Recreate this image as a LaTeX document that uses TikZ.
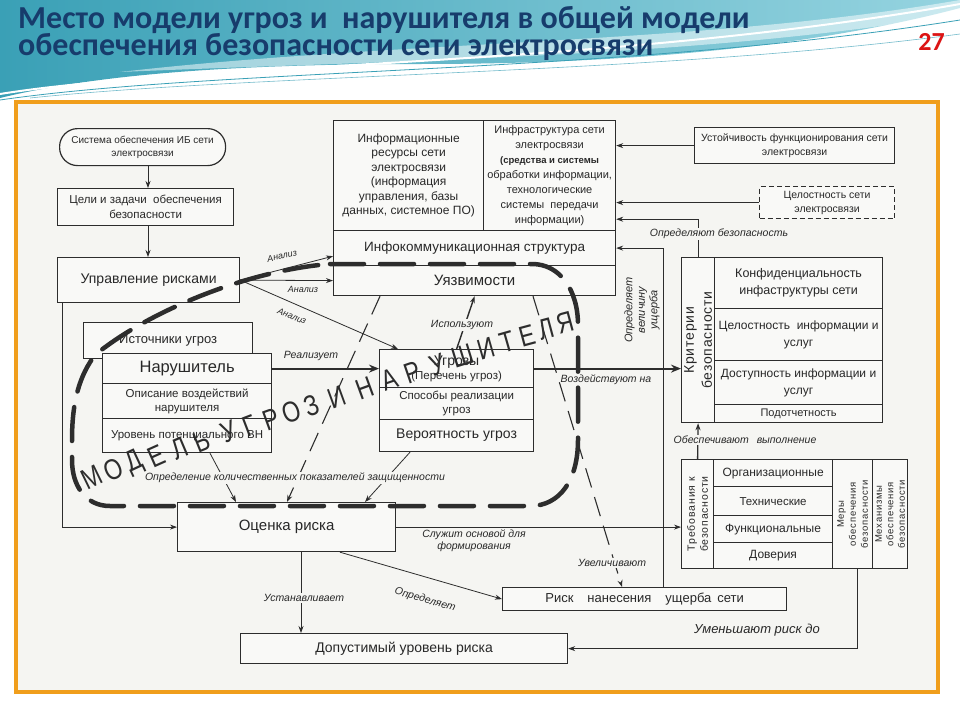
\documentclass[tikz,border=0pt]{standalone}
\usepackage{fontspec}
\setmainfont{Liberation Sans}
\newfontfamily\titlefont{Carlito}
\usetikzlibrary{arrows.meta,calc}
\definecolor{ttl}{RGB}{23,60,108}
\definecolor{ln}{RGB}{45,45,45}
\definecolor{txt}{RGB}{40,40,40}
\definecolor{scan}{RGB}{245,245,242}
\definecolor{boxf}{RGB}{249,249,247}
\definecolor{frame}{RGB}{240,158,28}
\definecolor{tealA}{RGB}{58,160,182}
\definecolor{tealB}{RGB}{150,212,224}
\definecolor{numred}{RGB}{220,20,20}
\newcommand\fsz[2]{\fontsize{#1}{#2}\selectfont}
\tikzset{
  bx/.style={draw=ln, line width=1.2pt, fill=boxf, inner sep=1pt, align=center, text=txt, anchor=north west},
  arr/.style={draw=ln, line width=0.8pt, -{Stealth[length=7pt,width=5pt]}},
  tarr/.style={draw=ln, line width=1.8pt, -{Stealth[length=10pt,width=8pt]}},
  lbl/.style={font=\fsz{10.5}{12}\itshape, text=txt, inner sep=1.5pt, align=center},
  lblf/.style={lbl, fill=scan},
  dsh/.style={draw=ln, line width=1.1pt, dash pattern=on 20pt off 10pt, -{Stealth[length=7pt,width=5pt]}},
  bigloop/.style={draw=ln, line width=4.5pt, dash pattern=on 34pt off 16pt, line cap=round},
  ml/.style={font=\fsz{29}{29}, text=ln, inner sep=0},
  rt/.style={rotate=90, align=center, text=txt, inner sep=0},
}
\begin{document}
\begin{tikzpicture}[x=1pt,y=-1pt]
\useasboundingbox (0,0) rectangle (960,720);
\fill[white] (0,0) rectangle (960,720);
% header
\shade[left color=tealA, right color=tealB] (0,0) -- (960,0) -- (960,8) .. controls (820,45) and (640,64) .. (420,64) .. controls (220,64) and (90,76) .. (0,98) -- cycle;
\fill[white, opacity=0.5] (120,72) .. controls (400,40) and (700,45) .. (960,0) -- (960,14) .. controls (700,58) and (400,60) .. (120,72) -- cycle;
\draw[white, line width=2pt] (0,94) .. controls (200,62) and (600,68) .. (960,4);
\draw[tealA, line width=0.8pt] (0,100) .. controls (220,68) and (620,74) .. (960,20);
\draw[tealA!70, line width=0.6pt] (30,98) .. controls (260,74) and (660,74) .. (960,34);
\node[anchor=base west, inner sep=0, text=ttl, font=\titlefont\bfseries\fsz{32}{36}] (title1) at (18,28) {Место модели угроз и\ \ нарушителя в общей модели};
\node[anchor=base west, inner sep=0, text=ttl, font=\titlefont\bfseries\fsz{32}{36}] (title2) at (18,55) {обеспечения безопасности сети электросвязи};
\node[anchor=base east, inner sep=0, text=numred, font=\titlefont\bfseries\fsz{26}{30}] (num) at (945,50) {27};
% scan area
\fill[scan] (16,102) rectangle (938,692);
\draw[frame, line width=4.5pt] (16,102) rectangle (938,692);

% boxes
\node[bx, rounded corners=18pt, minimum width=166pt, minimum height=37pt, font=\fsz{10}{13}] (sys) at (59,128) {Система обеспечения ИБ сети\\электросвязи};
\node[bx, minimum width=176pt, minimum height=37pt, font=\fsz{11.5}{15}] (goals) at (57,188) {Цели и задачи\ \ обеспечения\\безопасности};
\node[bx, minimum width=182pt, minimum height=45pt, font=\fsz{14}{16}] (risk) at (57,257) {Управление рисками};

\node[bx, minimum width=150pt, minimum height=110pt, font=\fsz{12}{14.5}] (resL) at (333,120) {Информационные\\ресурсы сети\\электросвязи\\(информация\\управления, базы\\данных, системное ПО)};
\node[bx, minimum width=132pt, minimum height=110pt, font=\fsz{11}{15}] (resR) at (483,120) {Инфраструктура сети\\электросвязи\\\fsz{9.5}{14}\bfseries(средства и системы\\обработки информации,\\технологические\\системы\ \ передачи\\информации)};
\node[bx, minimum width=282pt, minimum height=35pt, font=\fsz{13.5}{16}] (infra) at (333,230) {Инфокоммуникационная структура};
\node[bx, minimum width=282pt, minimum height=30pt, font=\fsz{15}{17}] (vuln) at (333,265) {Уязвимости};

\node[bx, minimum width=200pt, minimum height=36pt, font=\fsz{10.5}{14}] (stab) at (694,127) {Устойчивость функционирования сети\\электросвязи};
\node[bx, dash pattern=on 5pt off 3pt, minimum width=135pt, minimum height=32pt, font=\fsz{10.5}{14}] (integ) at (759,186) {Целостность сети\\электросвязи};

\node[bx, minimum width=33pt, minimum height=165pt] (critL) at (681,257) {};
\node[rt, font=\fsz{14}{18}\addfontfeature{LetterSpace=6}] (critT) at (critL.center) {Критерии\\безопасности};
\node[bx, minimum width=168pt, minimum height=51pt, font=\fsz{12.5}{17}] (c1) at (714,257) {Конфиденциальность\\инфаструктуры сети};
\node[bx, minimum width=168pt, minimum height=52pt, font=\fsz{12}{17}] (c2) at (714,308) {Целостность\ \ информации и\\услуг};
\node[bx, minimum width=168pt, minimum height=44pt, font=\fsz{12}{17}] (c3) at (714,360) {Доступность информации и\\услуг};
\node[bx, minimum width=168pt, minimum height=18pt, font=\fsz{11}{12}] (c4) at (714,404) {Подотчетность};

\node[bx, minimum width=32pt, minimum height=109pt] (rL) at (681,459) {};
\node[rt, font=\fsz{10.5}{13}\addfontfeature{LetterSpace=8}] (rLT) at (rL.center) {Требования к\\безопасности};
\node[bx, minimum width=119pt, minimum height=27pt, font=\fsz{12}{14}] (r1) at (713,459) {Организационные};
\node[bx, minimum width=119pt, minimum height=29pt, font=\fsz{11.5}{14}] (r2) at (713,486) {Технические};
\node[bx, minimum width=119pt, minimum height=27pt, font=\fsz{12}{14}] (r3) at (713,515) {Функциональные};
\node[bx, minimum width=119pt, minimum height=26pt, font=\fsz{12}{14}] (r4) at (713,542) {Доверия};
\node[bx, minimum width=40pt, minimum height=109pt] (mer) at (832,459) {};
\node[rt, font=\fsz{9.5}{12}\addfontfeature{LetterSpace=8}] (merT) at (mer.center) {Меры\\обеспечения\\безопасности};
\node[bx, minimum width=35pt, minimum height=109pt] (mech) at (872,459) {};
\node[rt, font=\fsz{9.5}{11.5}\addfontfeature{LetterSpace=8}] (mechT) at (mech.center) {Механизмы\\обеспечения\\безопасности};

\node[bx, minimum width=169pt, minimum height=36pt, font=\fsz{13}{15}] (src) at (83,322) {Источники угроз};
\node[bx, minimum width=169pt, minimum height=30pt, font=\fsz{16.5}{18}] (n1) at (102,353) {Нарушитель};
\node[bx, minimum width=169pt, minimum height=35pt, font=\fsz{11.5}{14}] (n2) at (102,383) {Описание воздействий\\нарушителя};
\node[bx, minimum width=169pt, minimum height=34pt, font=\fsz{11.5}{14}] (n3) at (102,418) {Уровень потенциального ВН};

\node[bx, minimum width=154pt, minimum height=38pt, font=\fsz{11.5}{14}] (t1) at (379,349) {{\fsz{14}{15}Угрозы}\\(Перечень угроз)};
\node[bx, minimum width=154pt, minimum height=32pt, font=\fsz{11.5}{14}] (t2) at (379,387) {Способы реализации\\угроз};
\node[bx, minimum width=154pt, minimum height=32pt, font=\fsz{14}{16}] (t3) at (379,419) {Вероятность угроз};

\node[bx, minimum width=218pt, minimum height=49pt, font=\fsz{15}{17}] (est) at (177,502) {Оценка риска};
\node[bx, minimum width=284pt, minimum height=23pt, font=\fsz{13}{15}] (dmg) at (502,587) {Риск\hspace{14pt}нанесения\hspace{14pt}ущерба\hspace{6pt}сети};
\node[bx, minimum width=327pt, minimum height=30pt, font=\fsz{14}{16}] (acc) at (240,633) {Допустимый уровень риска};

% helper x positions
\coordinate (xa) at (148,0);
\coordinate (xl) at (62,0);
\coordinate (xu) at (301,0);
\coordinate (xv) at (663,0);
\coordinate (xm) at (857,0);

% connectors
\draw[arr] (sys.south -| xa) -- (goals.north -| xa);
\draw[arr] (goals.south -| xa) -- (risk.north -| xa);
\draw[arr] (risk.east) -- ($(infra.south west)+(0,-10)$);
\draw[arr] (risk.east) -- (vuln.west);
\draw[arr] (risk.east) -- ($(t1.north west)+(19,0)$);
\draw[tarr] (n1.east) -- (t1.west);
\draw[arr, line width=1.4pt] (t1.north) -- (vuln.south);
\draw[tarr] (t1.east) -- (t1.east -| critL.west);
\draw[arr] (stab.west) -- (stab.west -| resR.east);
\draw[arr] (integ.west) -- (integ.west -| resR.east);
\draw[arr] (critL.north) |- ($(resR.south east)+(0,-12)$);
\draw[arr] (dmg.north -| xv) |- (infra.east);
\draw[arr, line width=1.3pt] (rL.north) -- (critL.south);
\draw[arr] (est.east) -- (est.east -| rL.west);
\draw[arr] (risk.south -| xl) |- (est.west);
\draw[arr] (est.south -| xu) -- (acc.north -| xu);
\draw[arr] ($(est.south west)+(163,0)$) -- (dmg.west);
\draw[arr] (mer.south -| xm) |- (acc.east);
\draw[arr] ($(n3.south west)+(108,0)$) -- ($(est.north west)+(59,0)$);
\draw[arr] ($(t3.south west)+(31,0)$) -- ($(est.north west)+(188,0)$);
\draw[dsh] ($(vuln.south west)+(47,0)$) -- ($(est.north west)+(110,0)$);
\draw[dsh] ($(vuln.south west)+(200,0)$) -- ($(dmg.north west)+(120,0)$);

% labels
\node[lbl, font=\fsz{9}{10}\itshape, rotate=12] (an1) at (282,256) {Анализ};
\node[lbl, font=\fsz{9}{10}\itshape] (an2) at (303,289) {Анализ};
\node[lbl, font=\fsz{9}{10}\itshape, rotate=-22] (an3) at (292,316) {Анализ};
\node[lbl] (lr) at (311,356) {Реализует};
\node[lblf] (lu) at (462,325) {Используют};
\node[lbl] (lv) at (606,380) {Воздействуют на};
\node[lblf] (lo) at (719,234) {Определяют безопасность};
\node[lbl, rotate=90, font=\fsz{11}{12.5}\itshape] (lw) at (642,310) {Определяет\\величину\\ущерба};
\node[lblf] (lob) at (745,440) {Обеспечивают\hspace{8pt}выполнение};
\node[lblf] (lq) at (295,478) {Определение количественных показателей защищенности};
\node[lbl] (ls) at (474,541) {Служит основой для\\формирования};
\node[lblf] (lst) at (304,598) {Устанавливает};
\node[lbl, rotate=-16] (ldet) at (425,600) {Определяет};
\node[lblf] (luv) at (612,563) {Увеличивают};
\node[lbl, font=\fsz{13}{15}\itshape] (lum) at (757,630) {Уменьшают риск до};

% model boundary
\draw[bigloop] (330,264) -- (532,264) .. controls (560,264) and (578,290) .. (578,325) -- (578,440) .. controls (578,480) and (560,506) .. (530,506) -- (110,506) .. controls (85,506) and (72,485) .. (72,460) -- (72,440) .. controls (72,400) and (80,375) .. (95,355) .. controls (150,310) and (250,270) .. (330,264);

% model title letters
\foreach \x/\y/\r/\l [count=\i] in {92/477/26/М, 113/470/25/О, 135/463/25/Д, 157/456/24/Е, 180/448/23/Л, 202/441/22/Ь, 229/432/21/У, 250/426/21/Г, 271/419/20/Р, 292/412/20/О, 312/406/20/З, 337/397/20/И, 365/388/20/Н, 390/380/19/А, 413/373/19/Р, 437/365/18/У, 463/356/17/Ш, 486/349/16/И, 507/342/16/Т, 527/336/15/Е, 546/329/15/Л, 565/323/15/Я}
  \node[ml, rotate=\r, xscale=0.8] (m\i) at (\x,\y) {\l};
\end{tikzpicture}
\end{document}
